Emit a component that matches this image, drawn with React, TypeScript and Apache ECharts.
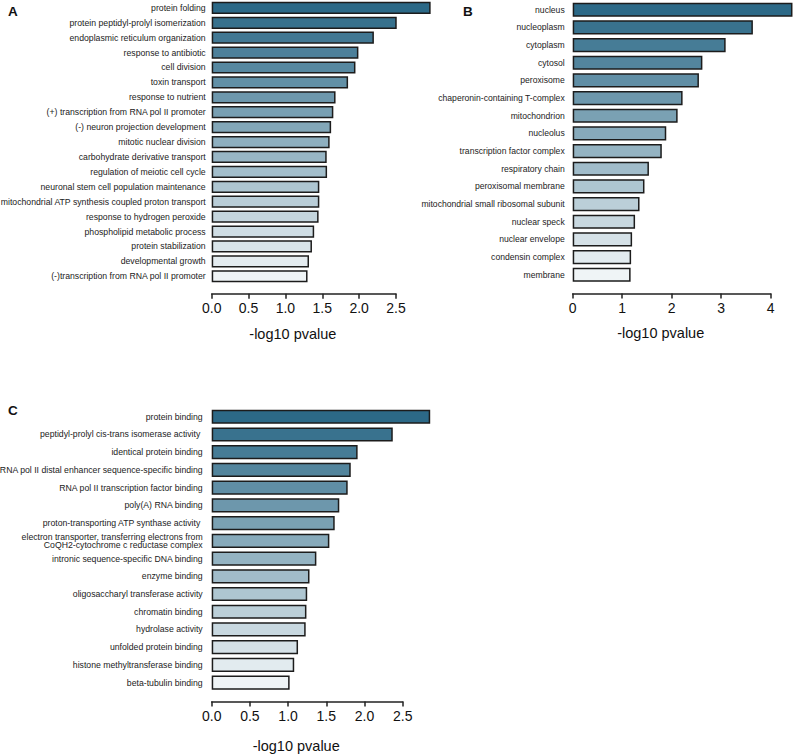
import React, { useEffect, useRef } from "react";
import * as echarts from "echarts";

const catsA = [
  "protein folding",
  "protein peptidyl-prolyl isomerization",
  "endoplasmic reticulum organization",
  "response to antibiotic",
  "cell division",
  "toxin transport",
  "response to nutrient",
  "(+) transcription from RNA pol II promoter",
  "(-) neuron projection development",
  "mitotic nuclear division",
  "carbohydrate derivative transport",
  "regulation of meiotic cell cycle",
  "neuronal stem cell population maintenance",
  "mitochondrial ATP synthesis coupled proton transport",
  "response to hydrogen peroxide",
  "phospholipid metabolic process",
  "protein stabilization",
  "developmental growth",
  "(-)transcription from RNA pol II promoter",
];
const valsA = [2.97, 2.51, 2.2, 1.99, 1.95, 1.85, 1.68, 1.65, 1.62, 1.6, 1.56, 1.565, 1.46, 1.46, 1.45, 1.39, 1.36, 1.32, 1.3];

const catsB = [
  "nucleus",
  "nucleoplasm",
  "cytoplasm",
  "cytosol",
  "peroxisome",
  "chaperonin-containing T-complex",
  "mitochondrion",
  "nucleolus",
  "transcription factor complex",
  "respiratory chain",
  "peroxisomal membrane",
  "mitochondrial small ribosomal subunit",
  "nuclear speck",
  "nuclear envelope",
  "condensin complex",
  "membrane",
];
const valsB = [4.44, 3.64, 3.09, 2.62, 2.55, 2.22, 2.12, 1.89, 1.8, 1.54, 1.45, 1.35, 1.26, 1.2, 1.18, 1.17];

const catsC = [
  "protein binding",
  "peptidyl-prolyl cis-trans isomerase activity ",
  "identical protein binding",
  "RNA pol II distal enhancer sequence-specific binding",
  "RNA pol II transcription factor binding",
  "poly(A) RNA binding",
  "proton-transporting ATP synthase activity ",
  "electron transporter, transferring electrons from\nCoQH2-cytochrome c reductase complex",
  "intronic sequence-specific DNA binding",
  "enzyme binding",
  "oligosaccharyl transferase activity",
  "chromatin binding",
  "hydrolase activity",
  "unfolded protein binding",
  "histone methyltransferase binding",
  "beta-tubulin binding",
];
const valsC = [2.86, 2.37, 1.91, 1.82, 1.78, 1.67, 1.61, 1.54, 1.37, 1.28, 1.25, 1.24, 1.23, 1.13, 1.08, 1.02];

const ticksA = [0, 0.5, 1, 1.5, 2, 2.5];
const ticksB = [0, 1, 2, 3, 4];
const ticksC = [0, 0.5, 1, 1.5, 2, 2.5];

const axisTitle = "-log10 pvalue";
const panelLetters = ["A", "B", "C"];

const FONT = "'Liberation Sans', Arial, Helvetica, sans-serif";
const TOP = [44, 105, 135];
const BOTTOM = [239, 244, 246];

function shade(i: number, n: number) {
  const t = n > 1 ? i / (n - 1) : 0;
  const c = TOP.map((v, k) => Math.round(v + (BOTTOM[k] - v) * t));
  return `rgb(${c[0]},${c[1]},${c[2]})`;
}

export default function App() {
  const ref = useRef<HTMLDivElement>(null);
  useEffect(() => {
    if (!ref.current) return;
    const chart = echarts.init(ref.current, undefined, { renderer: "svg" });

    const grids = [
      { left: 211.7, top: 0.4, width: 184.3, height: 283.3, outerBoundsMode: "none", containLabel: false },
      { left: 572.7, top: 0.9, width: 198, height: 282.7, outerBoundsMode: "none", containLabel: false },
      { left: 211.7, top: 407.9, width: 191, height: 283.6, outerBoundsMode: "none", containLabel: false },
    ];
    const ticks = [ticksA, ticksB, ticksC];
    const cats = [catsA, catsB, catsC];
    const vals = [valsA, valsB, valsC];
    const labelMargins = [6, 8, 9];
    const labelSizes = [8.7, 8.6, 8.7];
    const nameGaps = [33, 32, 37];

    const xAxis = ticks.map((tk, i) => ({
      type: "value",
      gridIndex: i,
      min: tk[0],
      max: tk[tk.length - 1],
      interval: tk[1] - tk[0],
      offset: 10,
      position: "bottom",
      axisLine: { show: true, lineStyle: { color: "#222", width: 1.5 } },
      axisTick: { show: true, length: 5, lineStyle: { color: "#222", width: 1.5 } },
      splitLine: { show: false },
      axisLabel: {
        color: "#111",
        fontSize: 14,
        fontFamily: FONT,
        margin: 7,
        formatter: (v: number) => (i === 1 ? String(v) : v.toFixed(1)),
      },
      name: axisTitle,
      nameLocation: "middle",
      nameGap: nameGaps[i],
      nameTextStyle: { color: "#111", fontSize: 14.5, fontFamily: FONT, padding: [0, 22, 0, 0] },
    }));

    const yAxis = cats.map((c, i) => ({
      type: "category",
      gridIndex: i,
      data: c,
      inverse: true,
      axisLine: { show: false },
      axisTick: { show: false },
      splitLine: { show: false },
      axisLabel: {
        color: "#222",
        fontSize: labelSizes[i],
        fontFamily: FONT,
        margin: labelMargins[i],
        lineHeight: 8.5,
        interval: 0,
      },
    }));

    const series = vals.map((v, i) => ({
      type: "bar",
      xAxisIndex: i,
      yAxisIndex: i,
      data: v,
      clip: false,
      barCategoryGap: i === 0 ? "18%" : "20%",
      itemStyle: {
        color: (p: any) => shade(p.dataIndex, v.length),
        borderColor: "#1c1c1c",
        borderWidth: 1.5,
      },
    }));

    const letterPos = [
      [8, 4],
      [463, 4],
      [8, 403],
    ];
    const graphic = panelLetters.map((t, i) => ({
      type: "text",
      left: letterPos[i][0],
      top: letterPos[i][1],
      style: { text: t, fontSize: 13.5, fontWeight: "bold", fontFamily: FONT, fill: "#111" },
    }));

    chart.setOption({
      animation: false,
      backgroundColor: "#fff",
      grid: grids,
      xAxis,
      yAxis,
      series,
      graphic,
    });
    return () => chart.dispose();
  }, []);
  return (
    <div
      ref={ref}
      style={{ position: "fixed", left: 0, top: 0, width: 795, height: 756 }}
    />
  );
}
